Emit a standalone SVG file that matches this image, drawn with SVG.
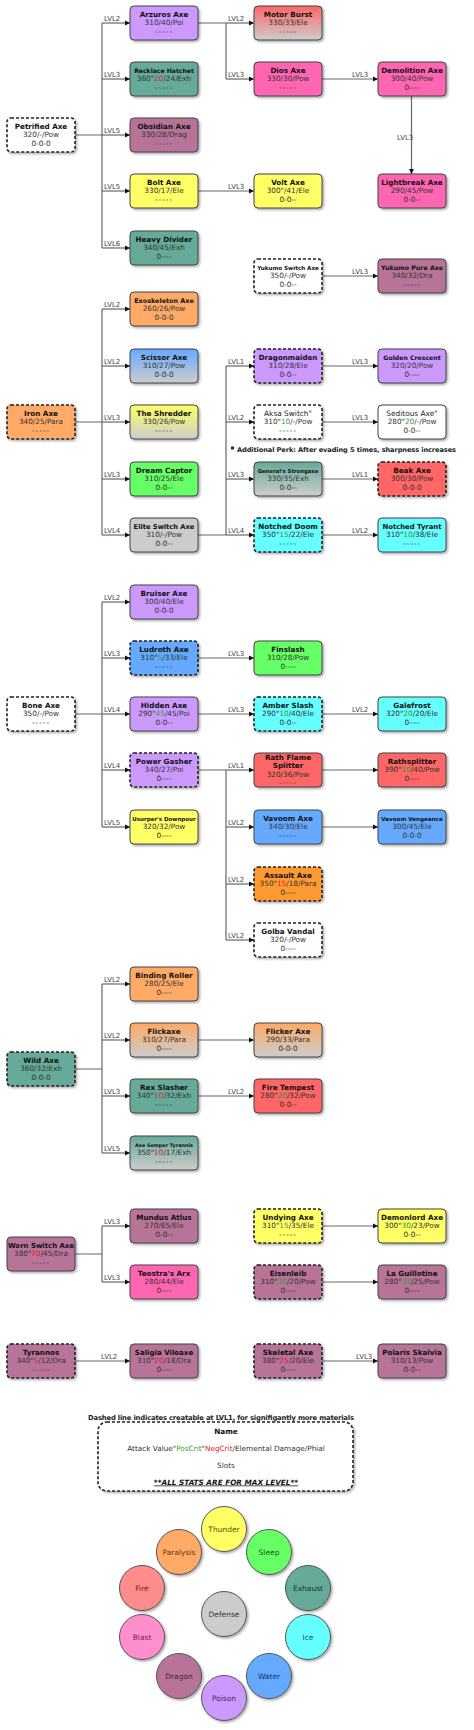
<svg xmlns="http://www.w3.org/2000/svg" width="474" height="1730" viewBox="0 0 474 1730">
<style>
.box{stroke:#444;stroke-width:1;filter:url(#sh)}
.d{stroke:#222;stroke-width:1.6;stroke-dasharray:3 2}
.poi{fill:#cc99ff}.exh{fill:#66aa99}.dra{fill:#b87399}.bla{fill:#ff66b2}.thu{fill:#ffff66}
.par{fill:#ffaa66}.sle{fill:#66ff66}.fir{fill:#ff6666}.ice{fill:#66ffff}.wat{fill:#66aaff}
.def{fill:#cccccc}.wht{fill:#ffffff}.asl{fill:#ff9933}
.t{font-family:"DejaVu Sans",sans-serif;font-weight:bold;font-size:7.2px;fill:#111;text-anchor:middle}
.tr{font-family:"DejaVu Sans",sans-serif;font-size:7.4px;fill:#222;text-anchor:middle}
.s{font-family:"DejaVu Sans",sans-serif;font-size:7.3px;fill:#333;text-anchor:middle}
.z{letter-spacing:1px}
.p{fill:#2e9e2e}.n{fill:#e02222}
.ln{fill:none;stroke:#666;stroke-width:1.2}
.ar{marker-end:url(#ar)}
.lb{font-family:"DejaVu Sans",sans-serif;font-size:7px;fill:#444}
.ct{font-family:"DejaVu Sans",sans-serif;font-size:7.5px;text-anchor:middle}
.cc{stroke:#555;stroke-width:1;filter:url(#sh)}
</style>
<defs>
<filter id="sh" x="-20%" y="-20%" width="140%" height="150%"><feDropShadow dx="1.5" dy="1.5" stdDeviation="0.9" flood-color="#000" flood-opacity="0.35"/></filter>
<marker id="ar" markerWidth="6" markerHeight="6" refX="5" refY="3" orient="auto" markerUnits="userSpaceOnUse"><path d="M0,0.6 L5,3 L0,5.4 Z" fill="#111"/></marker>
<linearGradient id="gMB" x1="0" y1="0" x2="0" y2="1"><stop offset="0" stop-color="#ff6666"/><stop offset="1" stop-color="#cccccc"/></linearGradient>
<linearGradient id="gSc" x1="0" y1="0" x2="0" y2="1"><stop offset="0" stop-color="#66aaff"/><stop offset="1" stop-color="#cccccc"/></linearGradient>
<linearGradient id="gSh" x1="0" y1="0" x2="0" y2="1"><stop offset="0" stop-color="#ffff66"/><stop offset="1" stop-color="#cccccc"/></linearGradient>
<linearGradient id="gGe" x1="0" y1="0" x2="0" y2="1"><stop offset="0" stop-color="#66aa99"/><stop offset="1" stop-color="#cccccc"/></linearGradient>
<linearGradient id="gFl" x1="0" y1="0" x2="0" y2="1"><stop offset="0" stop-color="#ffaa66"/><stop offset="1" stop-color="#cccccc"/></linearGradient>
</defs>
<rect width="474" height="1730" fill="#ffffff"/>

<g id="connectors">
<path class="ln" d="M74,135H102M102,23V248"/>
<path class="ln ar" d="M102,23H130"/><path class="ln ar" d="M102,79H130"/><path class="ln ar" d="M102,135H130"/><path class="ln ar" d="M102,191H130"/><path class="ln ar" d="M102,248H130"/>
<path class="ln" d="M198,23H226M226,23V79"/>
<path class="ln ar" d="M226,23H254"/><path class="ln ar" d="M226,79H254"/>
<path class="ln ar" d="M322,79H378"/>
<path class="ln ar" d="M411.5,96V174"/>
<path class="ln ar" d="M198,191H254"/>
<path class="ln ar" d="M322,276H378"/>
<path class="ln" d="M74,422H102M102,309V535"/>
<path class="ln ar" d="M102,309H130"/><path class="ln ar" d="M102,366H130"/><path class="ln ar" d="M102,422H130"/><path class="ln ar" d="M102,479H130"/><path class="ln ar" d="M102,535H130"/>
<path class="ln" d="M198,535H226M226,366V535"/>
<path class="ln ar" d="M226,366H254"/><path class="ln ar" d="M226,422H254"/><path class="ln ar" d="M226,479H254"/><path class="ln ar" d="M226,535H254"/>
<path class="ln ar" d="M322,366H378"/><path class="ln ar" d="M322,422H378"/><path class="ln ar" d="M322,479H378"/><path class="ln ar" d="M322,535H378"/>
<path class="ln" d="M74,714H102M102,602V827"/>
<path class="ln ar" d="M102,602H130"/><path class="ln ar" d="M102,658H130"/><path class="ln ar" d="M102,714H130"/><path class="ln ar" d="M102,770H130"/><path class="ln ar" d="M102,827H130"/>
<path class="ln ar" d="M198,658H254"/><path class="ln ar" d="M198,714H254"/><path class="ln ar" d="M322,714H378"/>
<path class="ln" d="M198,770H226M226,770V940"/>
<path class="ln ar" d="M226,770H254"/><path class="ln ar" d="M226,827H254"/><path class="ln ar" d="M226,884H254"/><path class="ln ar" d="M226,940H254"/>
<path class="ln ar" d="M322,770H378"/><path class="ln ar" d="M322,827H378"/>
<path class="ln" d="M74,1069H102M102,984V1153"/>
<path class="ln ar" d="M102,984H130"/><path class="ln ar" d="M102,1040H130"/><path class="ln ar" d="M102,1096H130"/><path class="ln ar" d="M102,1153H130"/>
<path class="ln ar" d="M198,1040H254"/><path class="ln ar" d="M198,1096H254"/>
<path class="ln" d="M74,1254H102M102,1226V1282"/>
<path class="ln ar" d="M102,1226H130"/><path class="ln ar" d="M102,1282H130"/>
<path class="ln ar" d="M322,1226H378"/><path class="ln ar" d="M322,1282H378"/>
<path class="ln ar" d="M74,1361H130"/><path class="ln ar" d="M322,1361H378"/>

<g id="labels">
<text class="lb" x="104" y="20.5">LVL2</text><text class="lb" x="104" y="76.5">LVL3</text><text class="lb" x="104" y="132.5">LVL5</text><text class="lb" x="104" y="188.5">LVL5</text><text class="lb" x="104" y="245.5">LVL6</text>
<text class="lb" x="228" y="20.5">LVL2</text><text class="lb" x="228" y="76.5">LVL3</text><text class="lb" x="352" y="76.5">LVL3</text>
<text class="lb" x="397" y="139.5">LVL3</text>
<text class="lb" x="228" y="188.5">LVL3</text><text class="lb" x="352" y="273.5">LVL3</text>
<text class="lb" x="104" y="306.5">LVL2</text><text class="lb" x="104" y="363.5">LVL2</text><text class="lb" x="104" y="419.5">LVL3</text><text class="lb" x="104" y="476.5">LVL3</text><text class="lb" x="104" y="532.5">LVL4</text>
<text class="lb" x="228" y="363.5">LVL1</text><text class="lb" x="228" y="419.5">LVL2</text><text class="lb" x="228" y="476.5">LVL3</text><text class="lb" x="228" y="532.5">LVL4</text>
<text class="lb" x="352" y="363.5">LVL3</text><text class="lb" x="352" y="419.5">LVL3</text><text class="lb" x="352" y="476.5">LVL1</text><text class="lb" x="352" y="532.5">LVL2</text>
<text class="lb" x="104" y="599.5">LVL2</text><text class="lb" x="104" y="655.5">LVL3</text><text class="lb" x="104" y="711.5">LVL4</text><text class="lb" x="104" y="767.5">LVL4</text><text class="lb" x="104" y="824.5">LVL5</text>
<text class="lb" x="228" y="655.5">LVL3</text><text class="lb" x="228" y="711.5">LVL3</text><text class="lb" x="352" y="711.5">LVL2</text>
<text class="lb" x="228" y="767.5">LVL1</text><text class="lb" x="228" y="824.5">LVL2</text><text class="lb" x="228" y="881.5">LVL2</text><text class="lb" x="228" y="937.5">LVL2</text>
<text class="lb" x="104" y="981.5">LVL2</text><text class="lb" x="104" y="1037.5">LVL2</text><text class="lb" x="104" y="1093.5">LVL3</text><text class="lb" x="104" y="1150.5">LVL5</text>
<text class="lb" x="228" y="1093.5">LVL2</text>
<text class="lb" x="104" y="1223.5">LVL3</text><text class="lb" x="104" y="1279.5">LVL3</text>
<text class="lb" x="101" y="1358.5">LVL2</text><text class="lb" x="356" y="1358.5">LVL3</text>
</g>
</g>

<g id="petrified-axe" transform="translate(7,118)"><rect class="box wht d" width="68" height="34" rx="4"/><text class="t" x="34" y="10.5">Petrified Axe</text><text class="s" x="34" y="19.3">320/-/Pow</text><text class="s" x="34" y="27.7">0-0-0</text></g>
<g id="arzuros-axe" transform="translate(130,6)"><rect class="box poi" width="68" height="34" rx="4"/><text class="t" x="34" y="10.5">Arzuros Axe</text><text class="s" x="34" y="19.3">310/40/Poi</text><text class="s z" x="34" y="27.7">-----</text></g>
<g id="recklace-hatchet" transform="translate(130,62)"><rect class="box exh" width="68" height="34" rx="4"/><text class="t" x="34" y="10.5" style="font-size:6.1px">Recklace Hatchet</text><text class="s" x="34" y="19.3">360"<tspan class="n">20</tspan>/24/Exh</text><text class="s z" x="34" y="27.7">-----</text></g>
<g id="obsidian-axe" transform="translate(130,118)"><rect class="box dra" width="68" height="34" rx="4"/><text class="t" x="34" y="10.5">Obsidian Axe</text><text class="s" x="34" y="19.3">330/28/Drag</text><text class="s z" x="34" y="27.7">-----</text></g>
<g id="bolt-axe" transform="translate(130,174)"><rect class="box thu" width="68" height="34" rx="4"/><text class="t" x="34" y="10.5">Bolt Axe</text><text class="s" x="34" y="19.3">330/17/Ele</text><text class="s z" x="34" y="27.7">-----</text></g>
<g id="heavy-divider" transform="translate(130,231)"><rect class="box exh" width="68" height="34" rx="4"/><text class="t" x="34" y="10.5">Heavy Divider</text><text class="s" x="34" y="19.3">340/45/Exh</text><text class="s" x="34" y="27.7">0----</text></g>
<g id="motor-burst" transform="translate(254,6)"><rect class="box" style="fill:url(#gMB)" width="68" height="34" rx="4"/><text class="t" x="34" y="10.5">Motor Burst</text><text class="s" x="34" y="19.3">330/33/Ele</text><text class="s z" x="34" y="27.7">-----</text></g>
<g id="dios-axe" transform="translate(254,62)"><rect class="box bla" width="68" height="34" rx="4"/><text class="t" x="34" y="10.5">Dios Axe</text><text class="s" x="34" y="19.3">330/30/Pow</text><text class="s z" x="34" y="27.7">-----</text></g>
<g id="volt-axe" transform="translate(254,174)"><rect class="box thu" width="68" height="34" rx="4"/><text class="t" x="34" y="10.5">Volt Axe</text><text class="s" x="34" y="19.3">300"/41/Ele</text><text class="s" x="34" y="27.7">0-0--</text></g>
<g id="demolition-axe" transform="translate(378,62)"><rect class="box bla" width="68" height="34" rx="4"/><text class="t" x="34" y="10.5">Demolition Axe</text><text class="s" x="34" y="19.3">300/40/Pow</text><text class="s" x="34" y="27.7">0----</text></g>
<g id="lightbreak-axe" transform="translate(378,174)"><rect class="box bla" width="68" height="34" rx="4"/><text class="t" x="34" y="10.5">Lightbreak Axe</text><text class="s" x="34" y="19.3">290/45/Pow</text><text class="s" x="34" y="27.7">0-0--</text></g>
<g id="yukumo-switch-axe" transform="translate(254,259)"><rect class="box wht d" width="68" height="34" rx="4"/><text class="t" x="34" y="10.5" style="font-size:5.6px">Yukumo Switch Axe</text><text class="s" x="34" y="19.3">350/-/Pow</text><text class="s" x="34" y="27.7">0-0--</text></g>
<g id="yukumo-pure-axe" transform="translate(378,259)"><rect class="box dra" width="68" height="34" rx="4"/><text class="t" x="34" y="10.5" style="font-size:6.3px">Yukumo Pure Axe</text><text class="s" x="34" y="19.3">340/32/Dra</text><text class="s z" x="34" y="27.7">-----</text></g>

<g id="iron-axe" transform="translate(7,405)"><rect class="box par d" width="68" height="34" rx="4"/><text class="t" x="34" y="10.5">Iron Axe</text><text class="s" x="34" y="19.3">340/25/Para</text><text class="s z" x="34" y="27.7">-----</text></g>
<g id="exoskeleton-axe" transform="translate(130,292)"><rect class="box par" width="68" height="34" rx="4"/><text class="t" x="34" y="10.5" style="font-size:6.45px">Exoskeleton Axe</text><text class="s" x="34" y="19.3">260/26/Pow</text><text class="s" x="34" y="27.7">0-0-0</text></g>
<g id="scissor-axe" transform="translate(130,349)"><rect class="box" style="fill:url(#gSc)" width="68" height="34" rx="4"/><text class="t" x="34" y="10.5">Scissor Axe</text><text class="s" x="34" y="19.3">310/27/Pow</text><text class="s" x="34" y="27.7">0-0-0</text></g>
<g id="the-shredder" transform="translate(130,405)"><rect class="box" style="fill:url(#gSh)" width="68" height="34" rx="4"/><text class="t" x="34" y="10.5">The Shredder</text><text class="s" x="34" y="19.3">330/26/Pow</text><text class="s z" x="34" y="27.7">-----</text></g>
<g id="dream-captor" transform="translate(130,462)"><rect class="box sle" width="68" height="34" rx="4"/><text class="t" x="34" y="10.5">Dream Captor</text><text class="s" x="34" y="19.3">310/25/Ele</text><text class="s" x="34" y="27.7">0-0--</text></g>
<g id="elite-switch-axe" transform="translate(130,518)"><rect class="box def" width="68" height="34" rx="4"/><text class="t" x="34" y="10.5" style="font-size:6.7px">Elite Switch Axe</text><text class="s" x="34" y="19.3">310/-/Pow</text><text class="s" x="34" y="27.7">0-0--</text></g>
<g id="dragonmaiden" transform="translate(254,349)"><rect class="box poi d" width="68" height="34" rx="4"/><text class="t" x="34" y="10.5" style="font-size:7.1px">Dragonmaiden</text><text class="s" x="34" y="19.3">310/28/Ele</text><text class="s" x="34" y="27.7">0-0--</text></g>
<g id="golden-crescent" transform="translate(378,349)"><rect class="box poi" width="68" height="34" rx="4"/><text class="t" x="34" y="10.5" style="font-size:6.2px">Golden Crescent</text><text class="s" x="34" y="19.3">320/20/Pow</text><text class="s" x="34" y="27.7">0----</text></g>
<g id="aksa-switch" transform="translate(254,405)"><rect class="box wht d" width="68" height="34" rx="4"/><text class="tr" x="34" y="10.5">Aksa Switch"</text><text class="s" x="34" y="19.3">310"<tspan class="p">10</tspan>/-/Pow</text><text class="s z" x="34" y="27.7">-----</text></g>
<g id="seditous-axe" transform="translate(378,405)"><rect class="box wht" width="68" height="34" rx="4"/><text class="tr" x="34" y="10.5">Seditous Axe"</text><text class="s" x="34" y="19.3">280"<tspan class="p">20</tspan>/-/Pow</text><text class="s" x="34" y="27.7">0-0--</text></g>
<g id="perk-note"><rect x="231" y="446.5" width="3" height="3" fill="#1a237e"/><text x="237" y="451.5" textLength="219" style="font-family:'DejaVu Sans',sans-serif;font-weight:bold;font-size:6.6px;fill:#222">Additional Perk: After evading 5 times, sharpness increases</text></g>
<g id="generals-strongaxe" transform="translate(254,462)"><rect class="box" style="fill:url(#gGe)" width="68" height="34" rx="4"/><text class="t" x="34" y="10.5" style="font-size:5.3px">General's Strongaxe</text><text class="s" x="34" y="19.3">330/35/Exh</text><text class="s" x="34" y="27.7">0-0--</text></g>
<g id="beak-axe" transform="translate(378,462)"><rect class="box fir d" width="68" height="34" rx="4"/><text class="t" x="34" y="10.5">Beak Axe</text><text class="s" x="34" y="19.3">300/30/Pow</text><text class="s" x="34" y="27.7">0-0-0</text></g>
<g id="notched-doom" transform="translate(254,518)"><rect class="box ice d" width="68" height="34" rx="4"/><text class="t" x="34" y="10.5">Notched Doom</text><text class="s" x="34" y="19.3">350"<tspan class="p">15</tspan>/22/Ele</text><text class="s z" x="34" y="27.7">-----</text></g>
<g id="notched-tyrant" transform="translate(378,518)"><rect class="box ice" width="68" height="34" rx="4"/><text class="t" x="34" y="10.5" style="font-size:6.85px">Notched Tyrant</text><text class="s" x="34" y="19.3">310"<tspan class="p">10</tspan>/38/Ele</text><text class="s z" x="34" y="27.7">-----</text></g>

<g id="bone-axe" transform="translate(7,697)"><rect class="box wht d" width="68" height="34" rx="4"/><text class="t" x="34" y="10.5">Bone Axe</text><text class="s" x="34" y="19.3">350/-/Pow</text><text class="s z" x="34" y="27.7">-----</text></g>
<g id="bruiser-axe" transform="translate(130,585)"><rect class="box poi" width="68" height="34" rx="4"/><text class="t" x="34" y="10.5">Bruiser Axe</text><text class="s" x="34" y="19.3">300/40/Ele</text><text class="s" x="34" y="27.7">0-0-0</text></g>
<g id="ludroth-axe" transform="translate(130,641)"><rect class="box wat d" width="68" height="34" rx="4"/><text class="t" x="34" y="10.5">Ludroth Axe</text><text class="s" x="34" y="19.3">310"<tspan class="p">5</tspan>/33/Ele</text><text class="s z" x="34" y="27.7">-----</text></g>
<g id="hidden-axe" transform="translate(130,697)"><rect class="box poi" width="68" height="34" rx="4"/><text class="t" x="34" y="10.5">Hidden Axe</text><text class="s" x="34" y="19.3">290"<tspan class="p">45</tspan>/45/Poi</text><text class="s" x="34" y="27.7">0-0--</text></g>
<g id="power-gasher" transform="translate(130,753)"><rect class="box poi d" width="68" height="34" rx="4"/><text class="t" x="34" y="10.5">Power Gasher</text><text class="s" x="34" y="19.3">340/27/Poi</text><text class="s" x="34" y="27.7">0----</text></g>
<g id="usurpers-downpour" transform="translate(130,810)"><rect class="box thu" width="68" height="34" rx="4"/><text class="t" x="34" y="10.5" style="font-size:5.5px">Usurper's Downpour</text><text class="s" x="34" y="19.3">320/32/Pow</text><text class="s" x="34" y="27.7">0----</text></g>
<g id="finslash" transform="translate(254,641)"><rect class="box sle" width="68" height="34" rx="4"/><text class="t" x="34" y="10.5">Finslash</text><text class="s" x="34" y="19.3">310/28/Pow</text><text class="s" x="34" y="27.7">0----</text></g>
<g id="amber-slash" transform="translate(254,697)"><rect class="box ice d" width="68" height="34" rx="4"/><text class="t" x="34" y="10.5">Amber Slash</text><text class="s" x="34" y="19.3">290"<tspan class="p">10</tspan>/40/Ele</text><text class="s" x="34" y="27.7">0-0--</text></g>
<g id="galefrost" transform="translate(378,697)"><rect class="box ice" width="68" height="34" rx="4"/><text class="t" x="34" y="10.5">Galefrost</text><text class="s" x="34" y="19.3">320"<tspan class="p">20</tspan>/20/Ele</text><text class="s" x="34" y="27.7">0----</text></g>
<g id="rath-flame-splitter" transform="translate(254,753)"><rect class="box fir" width="68" height="34" rx="4"/><text class="t" x="34" y="7">Rath Flame</text><text class="t" x="34" y="15.4">Splitter</text><text class="s" x="34" y="23.8">320/36/Pow</text><text class="s z" x="34" y="31.6">-----</text></g>
<g id="rathsplitter" transform="translate(378,753)"><rect class="box fir" width="68" height="34" rx="4"/><text class="t" x="34" y="10.5">Rathsplitter</text><text class="s" x="34" y="19.3">390"<tspan class="p">10</tspan>/40/Pow</text><text class="s" x="34" y="27.7">0----</text></g>
<g id="vavoom-axe" transform="translate(254,810)"><rect class="box wat" width="68" height="34" rx="4"/><text class="t" x="34" y="10.5">Vavoom Axe</text><text class="s" x="34" y="19.3">340/30/Ele</text><text class="s z" x="34" y="27.7">-----</text></g>
<g id="vavoom-vengeance" transform="translate(378,810)"><rect class="box wat" width="68" height="34" rx="4"/><text class="t" x="34" y="10.5" style="font-size:5.6px">Vavoom Vengeance</text><text class="s" x="34" y="19.3">300/45/Ele</text><text class="s" x="34" y="27.7">0-0-0</text></g>
<g id="assault-axe" transform="translate(254,867)"><rect class="box asl d" width="68" height="34" rx="4"/><text class="t" x="34" y="10.5">Assault Axe</text><text class="s" x="34" y="19.3">350"<tspan class="n">15</tspan>/18/Para</text><text class="s" x="34" y="27.7">0----</text></g>
<g id="golba-vandal" transform="translate(254,923)"><rect class="box wht d" width="68" height="34" rx="4"/><text class="t" x="34" y="10.5">Golba Vandal</text><text class="s" x="34" y="19.3">320/-/Pow</text><text class="s" x="34" y="27.7">0----</text></g>

<g id="wild-axe" transform="translate(7,1052)"><rect class="box exh d" width="68" height="34" rx="4"/><text class="t" x="34" y="10.5">Wild Axe</text><text class="s" x="34" y="19.3">360/32/Exh</text><text class="s" x="34" y="27.7">0-0-0</text></g>
<g id="binding-roller" transform="translate(130,967)"><rect class="box par" width="68" height="34" rx="4"/><text class="t" x="34" y="10.5">Binding Roller</text><text class="s" x="34" y="19.3">280/25/Ele</text><text class="s" x="34" y="27.7">0----</text></g>
<g id="flickaxe" transform="translate(130,1023)"><rect class="box" style="fill:url(#gFl)" width="68" height="34" rx="4"/><text class="t" x="34" y="10.5">Flickaxe</text><text class="s" x="34" y="19.3">310/27/Para</text><text class="s" x="34" y="27.7">0----</text></g>
<g id="rex-slasher" transform="translate(130,1079)"><rect class="box exh" width="68" height="34" rx="4"/><text class="t" x="34" y="10.5">Rex Slasher</text><text class="s" x="34" y="19.3">340"<tspan class="n">10</tspan>/32/Exh</text><text class="s z" x="34" y="27.7">-----</text></g>
<g id="axe-semper-tyrannis" transform="translate(130,1136)"><rect class="box" style="fill:url(#gGe)" width="68" height="34" rx="4"/><text class="t" x="34" y="10.5" style="font-size:4.9px">Axe Semper Tyrannis</text><text class="s" x="34" y="19.3">350"<tspan class="n">10</tspan>/17/Exh</text><text class="s z" x="34" y="27.7">-----</text></g>
<g id="flicker-axe" transform="translate(254,1023)"><rect class="box" style="fill:url(#gFl)" width="68" height="34" rx="4"/><text class="t" x="34" y="10.5">Flicker Axe</text><text class="s" x="34" y="19.3">290/33/Para</text><text class="s" x="34" y="27.7">0-0-0</text></g>
<g id="fire-tempest" transform="translate(254,1079)"><rect class="box fir" width="68" height="34" rx="4"/><text class="t" x="34" y="10.5">Fire Tempest</text><text class="s" x="34" y="19.3">280"<tspan class="p">20</tspan>/32/Pow</text><text class="s" x="34" y="27.7">0-0--</text></g>

<g id="worn-switch-axe" transform="translate(7,1237)"><rect class="box dra" width="68" height="34" rx="4"/><text class="t" x="34" y="10.5" style="font-size:6.95px">Worn Switch Axe</text><text class="s" x="34" y="19.3">380"<tspan class="n">70</tspan>/45/Dra</text><text class="s z" x="34" y="27.7">-----</text></g>
<g id="mundus-atlus" transform="translate(130,1209)"><rect class="box dra" width="68" height="34" rx="4"/><text class="t" x="34" y="10.5">Mundus Atlus</text><text class="s" x="34" y="19.3">270/65/Ele</text><text class="s" x="34" y="27.7">0-0--</text></g>
<g id="teostras-arx" transform="translate(130,1265)"><rect class="box bla" width="68" height="34" rx="4"/><text class="t" x="34" y="10.5">Teostra's Arx</text><text class="s" x="34" y="19.3">280/44/Ele</text><text class="s" x="34" y="27.7">0----</text></g>
<g id="undying-axe" transform="translate(254,1209)"><rect class="box thu d" width="68" height="34" rx="4"/><text class="t" x="34" y="10.5">Undying Axe</text><text class="s" x="34" y="19.3">310"<tspan class="p">15</tspan>/35/Ele</text><text class="s z" x="34" y="27.7">-----</text></g>
<g id="demonlord-axe" transform="translate(378,1209)"><rect class="box thu" width="68" height="34" rx="4"/><text class="t" x="34" y="10.5">Demonlord Axe</text><text class="s" x="34" y="19.3">300"<tspan class="p">30</tspan>/23/Pow</text><text class="s" x="34" y="27.7">0-0--</text></g>
<g id="eisenleib" transform="translate(254,1265)"><rect class="box dra d" width="68" height="34" rx="4"/><text class="t" x="34" y="10.5">Eisenleib</text><text class="s" x="34" y="19.3">310"<tspan class="p">30</tspan>/20/Pow</text><text class="s" x="34" y="27.7">0----</text></g>
<g id="la-guillotine" transform="translate(378,1265)"><rect class="box dra" width="68" height="34" rx="4"/><text class="t" x="34" y="10.5">La Guillotine</text><text class="s" x="34" y="19.3">280"<tspan class="p">35</tspan>/25/Pow</text><text class="s" x="34" y="27.7">0----</text></g>
<g id="tyrannos" transform="translate(7,1344)"><rect class="box dra d" width="68" height="34" rx="4"/><text class="t" x="34" y="10.5">Tyrannos</text><text class="s" x="34" y="19.3">340"<tspan class="n">5</tspan>/12/Dra</text><text class="s z" x="34" y="27.7">-----</text></g>
<g id="saligia-vileaxe" transform="translate(130,1344)"><rect class="box dra" width="68" height="34" rx="4"/><text class="t" x="34" y="10.5" style="font-size:7.05px">Saligia Vileaxe</text><text class="s" x="34" y="19.3">310"<tspan class="n">20</tspan>/18/Dra</text><text class="s" x="34" y="27.7">0----</text></g>
<g id="skeletal-axe" transform="translate(254,1344)"><rect class="box dra d" width="68" height="34" rx="4"/><text class="t" x="34" y="10.5">Skeletal Axe</text><text class="s" x="34" y="19.3">380"<tspan class="n">25</tspan>/20/Ele</text><text class="s" x="34" y="27.7">0----</text></g>
<g id="polaris-skalvia" transform="translate(378,1344)"><rect class="box dra" width="68" height="34" rx="4"/><text class="t" x="34" y="10.5">Polaris Skalvia</text><text class="s" x="34" y="19.3">310/13/Pow</text><text class="s" x="34" y="27.7">0-0--</text></g>

<g id="legend">
<text x="221" y="1419.5" text-anchor="middle" textLength="266" style="font-family:'DejaVu Sans',sans-serif;font-weight:bold;font-size:6.8px;fill:#222">Dashed line indicates creatable at LVL1, for signifigantly more materials</text>
<rect class="box wht d" x="98" y="1422" width="255" height="69" rx="9"/>
<text class="t" x="226" y="1434" style="font-size:7.3px">Name</text>
<text class="s" x="226" y="1450.5">Attack Value"<tspan class="p">PosCrit</tspan>"<tspan class="n">NegCrit</tspan>/Elemental Damage/Phial</text>
<text class="s" x="226" y="1467.5">Slots</text>
<text class="t" x="226" y="1484.5" style="font-size:7.3px;font-style:italic;text-decoration:underline">**ALL STATS ARE FOR MAX LEVEL**</text>
</g>

<g id="thunder"><circle class="cc thu" cx="224" cy="1529" r="22.5"/><text class="ct" x="224" y="1531.7" fill="#555500">Thunder</text></g>
<g id="paralysis"><circle class="cc par" cx="179" cy="1552" r="22.5"/><text class="ct" x="179" y="1554.7" fill="#6a3a10">Paralysis</text></g>
<g id="sleep"><circle class="cc sle" cx="269" cy="1552" r="22.5"/><text class="ct" x="269" y="1554.7" fill="#145514">Sleep</text></g>
<g id="fire"><circle class="cc" fill="#ff8c8c" cx="142" cy="1588" r="22.5"/><text class="ct" x="142" y="1590.7" fill="#772222">Fire</text></g>
<g id="exhaust"><circle class="cc exh" cx="308" cy="1588" r="22.5"/><text class="ct" x="308" y="1590.7" fill="#123a33">Exhaust</text></g>
<g id="defense"><circle class="cc def" cx="224" cy="1614" r="22.5"/><text class="ct" x="224" y="1616.7" fill="#333">Defense</text></g>
<g id="blast"><circle class="cc" fill="#ff8fcc" cx="142" cy="1637" r="22.5"/><text class="ct" x="142" y="1639.7" fill="#772255">Blast</text></g>
<g id="ice"><circle class="cc ice" cx="308" cy="1637" r="22.5"/><text class="ct" x="308" y="1639.7" fill="#115555">Ice</text></g>
<g id="dragon"><circle class="cc dra" cx="179" cy="1676" r="22.5"/><text class="ct" x="179" y="1678.7" fill="#442233">Dragon</text></g>
<g id="water"><circle class="cc wat" cx="269" cy="1676" r="22.5"/><text class="ct" x="269" y="1678.7" fill="#113366">Water</text></g>
<g id="poison"><circle class="cc poi" cx="224" cy="1698" r="22.5"/><text class="ct" x="224" y="1700.7" fill="#442266">Poison</text></g>
</svg>
